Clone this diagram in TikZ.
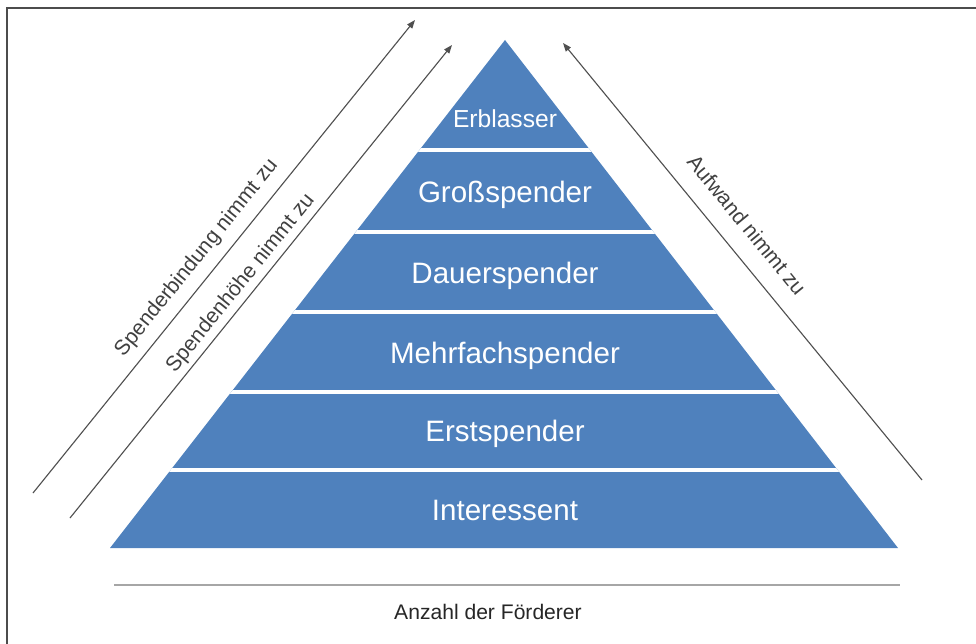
\documentclass[tikz,border=0pt]{standalone}
\usepackage{fontspec}
\setmainfont{Liberation Sans}
\usetikzlibrary{arrows.meta,positioning}

\definecolor{pyrblue}{RGB}{79,129,189}
\definecolor{arrowgray}{RGB}{80,80,80}

\begin{document}
\begin{tikzpicture}[x=0.025cm, y=-0.025cm,
    band/.style={text=white, anchor=base, font=\fontsize{21}{24}\selectfont},
    sep/.style={white, line width=2.2pt},
    trend/.style={draw=arrowgray, line width=0.8pt, -{Triangle[length=6pt,width=4.5pt]}},
    trendlabel/.style={font=\fontsize{15}{17}\selectfont, text=black!75, sloped, inner sep=0pt}]

    \useasboundingbox (0,0) rectangle (976,644);
    \clip (0,0) rectangle (976,644);

    % Frame
    \draw[line width=1.2pt, gray!60!black] (7,8) rectangle (1000,700);

    % Pyramid
    \coordinate (apex) at (505,40);
    \coordinate (base-l) at (110,548);
    \coordinate (base-r) at (898,548);
    \fill[pyrblue] (apex) -- (base-l) -- (base-r) -- cycle;

    % Level borders
    \begin{scope}
        \clip (apex) -- (base-l) -- (base-r) -- cycle;
        \foreach \y in {150,232,312,392,470}
            \draw[sep] (100,\y) -- (910,\y);
    \end{scope}

    % Levels
    \node[band, font=\fontsize{17.5}{20}\selectfont] (erblasser) at (505,128) {Erblasser};
    \node[band] (gross) at (505,203) {Großspender};
    \node[band] (dauer) at (505,283) {Dauerspender};
    \node[band] (mehrfach) at (505,363) {Mehrfachspender};
    \node[band] (erst) at (505,441) {Erstspender};
    \node[band] (interessent) at (505,520) {Interessent};

    % Trends
    \coordinate (bind-s) at (33,493);
    \coordinate (bind-e) at (415,20);
    \coordinate (hoehe-s) at (70,518);
    \coordinate (hoehe-e) at (452,45);
    \coordinate (aufwand-s) at (922,480);
    \coordinate (aufwand-e) at (563,43);
    \draw[trend] (bind-s) -- (bind-e) node[trendlabel, pos=0.47, above=7pt] {Spenderbindung nimmt zu};
    \draw[trend] (hoehe-s) -- (hoehe-e) node[trendlabel, pos=0.477, above=3pt] {Spendenhöhe nimmt zu};
    \draw[trend] (aufwand-s) -- (aufwand-e) node[trendlabel, pos=0.545, above=13pt] {Aufwand nimmt zu};

    % Number of supporters
    \coordinate (count-l) at (114,585);
    \coordinate (count-r) at (900,585);
    \draw[gray!70, line width=1.5pt] (count-l) -- (count-r);
    \node[font=\fontsize{15}{17}\selectfont, text=black!85] (count) at (488,612) {Anzahl der Förderer};
\end{tikzpicture}
\end{document}
